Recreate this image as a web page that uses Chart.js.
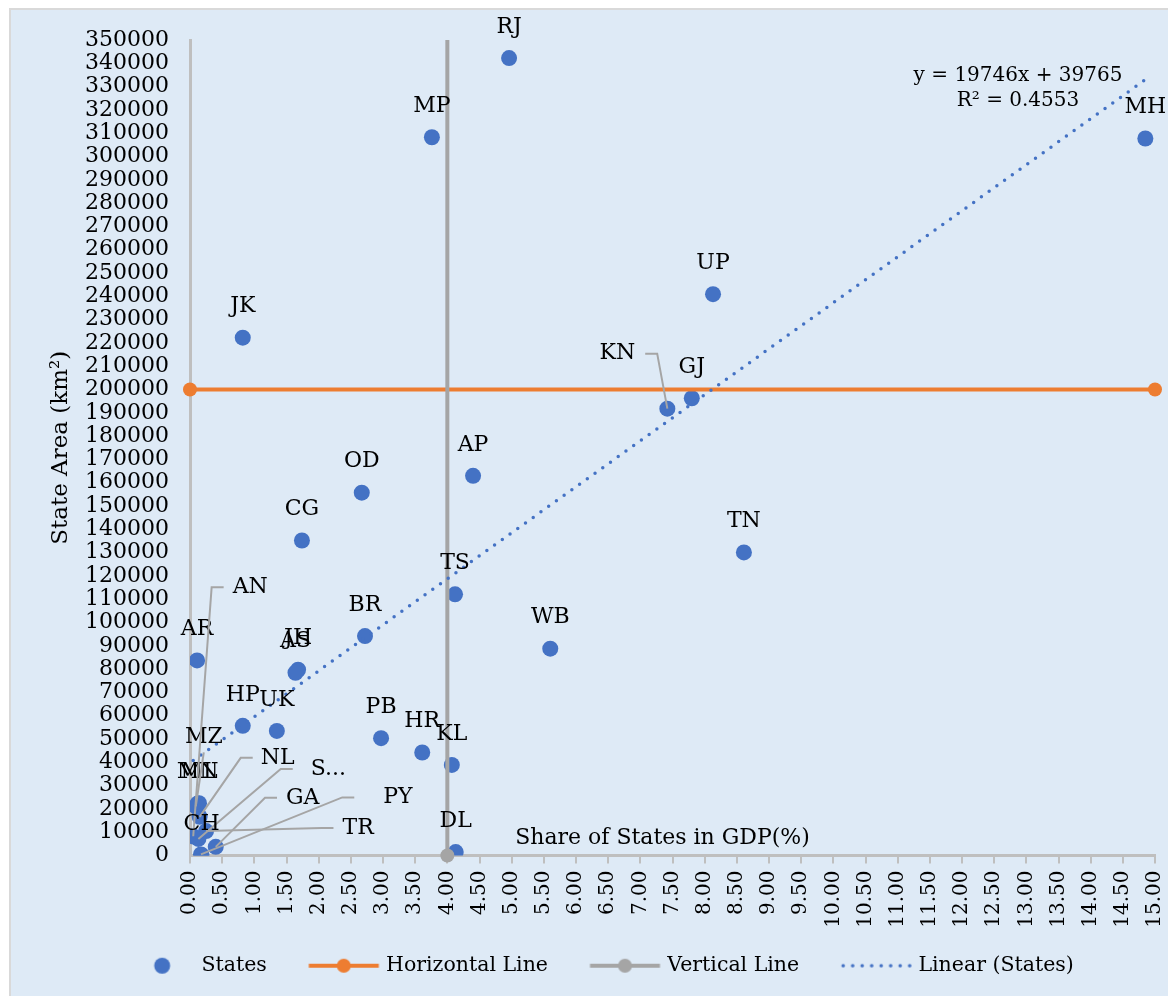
<!DOCTYPE html>
<html>
<head>
<meta charset="utf-8">
<title>State Area vs Share of States in GDP</title>
<script src="https://cdn.jsdelivr.net/npm/chart.js@4.4.1/dist/chart.umd.min.js"></script>
<style>
    html, body { margin: 0; padding: 0; background: #ffffff; }
    #wrap {
        position: absolute; left: 9px; top: 8px;
        width: 1157px; height: 986px;
        border-left: 2px solid #d9d9d9; border-top: 2px solid #d9d9d9;
        background: #deeaf6;
    }
    canvas { display: block; }
</style>
</head>
<body>
<div id="wrap"><canvas id="chart" width="1157" height="986"></canvas></div>
<script>
// state codes as shown on the chart (Sikkim label is cut to "S...")
const stateCodes = ['RJ', 'MP', 'MH', 'UP', 'JK', 'GJ', 'KN', 'AP', 'OD', 'CG', 'TN', 'TS', 'BR', 'WB', 'AR',
    'JH', 'AS', 'HP', 'UK', 'PB', 'HR', 'KL', 'ML', 'MN', 'MZ', 'NL', 'TR', 'AN', 'S...', 'GA', 'DL', 'PY', 'CH'];
const gdpShare = [4.96, 3.76, 14.85, 8.13, 0.82, 7.80, 7.42, 4.40, 2.67, 1.74, 8.61, 4.12, 2.72, 5.60, 0.11,
    1.68, 1.64, 0.82, 1.35, 2.97, 3.61, 4.07, 0.14, 0.12, 0.09, 0.15, 0.25, 0.05, 0.13, 0.40, 4.13, 0.17, 0.18];
const stateArea = [342239, 308252, 307713, 240928, 222236, 196244, 191791, 162968, 155707, 135192, 130058, 112077, 94163, 88752, 83743,
    79716, 78438, 55673, 53483, 50362, 44212, 38863, 22429, 22327, 21081, 16579, 10486, 8249, 7096, 3702, 1484, 479, 114];

const seriesNames = ['States', 'Horizontal Line', 'Vertical Line', 'Linear (States)'];
const hLineX = [0, 15];
const hLineY = [200000, 200000];
const vLineX = [4, 4];
const vLineY = [0, 350000];
const trendSlope = 19746;
const trendIntercept = 39765;
const trendText = ['y = 19746x + 39765', 'R\u00b2 = 0.4553'];

const xMin = 0, xMax = 15, xStep = 0.5;
const yMin = 0, yMax = 350000, yStep = 10000;
const xTitle = 'Share of States in GDP(%)';
const yTitle = 'State Area (km\u00b2)';

// labels that Excel moved away from their point: [dx, dy, gap to leader]
const labelShift = {
    'KN': [-50, -55, 10],
    'MZ': [8, -69, 0],
    'AN': [57, -249, 9],
    'NL': [78, -59, 8],
    'S...': [130, -70, 18],
    'GA': [87, -49, 9],
    'PY': [197, -57, 29],
    'TR': [152, -3, 9]
};

const FONT = '"DejaVu Serif", Georgia, serif';
const BLUE = '#4472c4', ORANGE = '#ed7d31', GREY = '#a5a5a5', AXIS = '#bfbfbf';

const statePoints = gdpShare.map((x, i) => ({ x: x, y: stateArea[i] }));
const trendX = [Math.min(...gdpShare), Math.max(...gdpShare)];
const trendPoints = trendX.map(x => ({ x: x, y: trendSlope * x + trendIntercept }));

// legend box is 99 wide; the picture is wider so the symbol
// ends only ~7px before the text, like in Excel
const LEG_BOX = 99, LEG_IMG = 116;
function legendIcon(kind) {
    const c = document.createElement('canvas');
    c.width = LEG_IMG; c.height = 20;
    const g = c.getContext('2d');
    const shift = (LEG_IMG - LEG_BOX) / 2;
    const x0 = 32 + shift, x1 = 102 + shift, cy = 10;
    if (kind === 0) {
        g.fillStyle = BLUE;
        g.beginPath(); g.arc(x1 - 36 + 4, cy, 8, 0, Math.PI * 2); g.fill();
    } else if (kind === 1 || kind === 2) {
        const col = kind === 1 ? ORANGE : GREY;
        g.strokeStyle = col; g.lineWidth = 4;
        g.beginPath(); g.moveTo(x0, cy); g.lineTo(x1, cy); g.stroke();
        g.fillStyle = col;
        g.beginPath(); g.arc((x0 + x1) / 2, cy, 7, 0, Math.PI * 2); g.fill();
    } else {
        g.fillStyle = BLUE;
        for (let x = x0 + 2; x <= x1 - 1; x += 9.5) {
            g.beginPath(); g.arc(x, cy, 1.8, 0, Math.PI * 2); g.fill();
        }
    }
    return c;
}

const stateLabels = {
    id: 'stateLabels',
    afterDatasetsDraw(chart) {
        const ctx = chart.ctx;
        const meta = chart.getDatasetMeta(0);
        ctx.save();
        ctx.font = '22px ' + FONT;
        ctx.textAlign = 'center';
        ctx.textBaseline = 'middle';
        meta.data.forEach((pt, i) => {
            const code = stateCodes[i];
            const s = labelShift[code];
            let lx = pt.x, ly = pt.y - 31;
            if (s) {
                lx = pt.x + s[0];
                ly = pt.y + s[1];
                const w = ctx.measureText(code).width;
                ctx.strokeStyle = GREY;
                ctx.lineWidth = 2;
                ctx.beginPath();
                if (Math.abs(s[0]) < 20) {
                    ctx.moveTo(lx, ly + 15);
                } else if (s[0] > 0) {
                    const sx = lx - w / 2 - s[2];
                    ctx.moveTo(sx, ly);
                    ctx.lineTo(sx - 12, ly);
                } else {
                    const sx = lx + w / 2 + s[2];
                    ctx.moveTo(sx, ly);
                    ctx.lineTo(sx + 12, ly);
                }
                ctx.lineTo(pt.x, pt.y);
                ctx.stroke();
            }
            ctx.fillStyle = '#000000';
            ctx.fillText(code, lx, ly);
        });
        ctx.restore();
    },
    afterDraw(chart) {
        const ctx = chart.ctx;
        const area = chart.chartArea;
        ctx.save();
        ctx.fillStyle = '#000000';
        ctx.textAlign = 'center';
        ctx.textBaseline = 'middle';
        ctx.font = '22px ' + FONT;
        ctx.fillText(xTitle, (area.left + area.right) / 2 - 10, area.bottom - 17);
        ctx.font = '20px ' + FONT;
        ctx.fillText(trendText[0], area.right - 137, area.top + 36);
        ctx.fillText(trendText[1], area.right - 137, area.top + 61);
        ctx.restore();
    }
};

const chart = new Chart(document.getElementById('chart'), {
    type: 'scatter',
    data: {
        datasets: [
            {
                label: seriesNames[0],
                data: statePoints,
                backgroundColor: BLUE,
                borderWidth: 0,
                pointRadius: 8,
                pointHoverRadius: 8,
                order: 3
            },
            {
                label: seriesNames[1],
                data: hLineX.map((x, i) => ({ x: x, y: hLineY[i] })),
                showLine: true,
                borderColor: ORANGE,
                backgroundColor: ORANGE,
                borderWidth: 4,
                pointRadius: 7,
                pointBorderWidth: 0,
                clip: false,
                order: 2
            },
            {
                label: seriesNames[2],
                data: vLineX.map((x, i) => ({ x: x, y: vLineY[i] })),
                showLine: true,
                borderColor: GREY,
                backgroundColor: GREY,
                borderWidth: 4,
                pointRadius: [7, 0],
                pointBorderWidth: 0,
                clip: false,
                order: 1
            },
            {
                label: seriesNames[3],
                data: trendPoints,
                showLine: true,
                borderColor: BLUE,
                borderWidth: 3.5,
                borderDash: [0, 9.5],
                borderCapStyle: 'round',
                pointRadius: 0,
                order: 0
            }
        ]
    },
    options: {
        responsive: false,
        animation: false,
        layout: { padding: { top: 30, right: 13, left: 0, bottom: 10 } },
        scales: {
            x: {
                type: 'linear',
                min: xMin,
                max: xMax,
                grid: { drawOnChartArea: false, drawTicks: true, tickLength: 8, color: AXIS, lineWidth: 2 },
                border: { color: AXIS, width: 3 },
                ticks: {
                    stepSize: xStep,
                    autoSkip: false,
                    minRotation: 90,
                    maxRotation: 90,
                    padding: 7,
                    color: '#000000',
                    font: { family: FONT, size: 20 },
                    callback: v => v.toFixed(2)
                },
                afterFit: s => { s.height = 90; s.paddingLeft = 0; s.paddingRight = 0; }
            },
            y: {
                type: 'linear',
                min: yMin,
                max: yMax,
                grid: { display: false, drawTicks: false },
                border: { color: AXIS, width: 3 },
                ticks: {
                    stepSize: yStep,
                    autoSkip: false,
                    padding: 21,
                    color: '#000000',
                    font: { family: FONT, size: 22 },
                    callback: v => String(v)
                },
                title: {
                    display: true,
                    text: yTitle,
                    color: '#000000',
                    font: { family: FONT, size: 23 },
                    padding: { top: 36, bottom: 0 }
                },
                afterFit: s => { s.width = 179; s.paddingTop = 0; s.paddingBottom = 0; }
            }
        },
        plugins: {
            tooltip: { enabled: false },
            legend: {
                position: 'bottom',
                labels: {
                    usePointStyle: true,
                    pointStyleWidth: LEG_BOX,
                    padding: 10,
                    color: '#000000',
                    font: { family: FONT, size: 20.5 },
                    generateLabels: () => seriesNames.map((name, i) => ({
                        text: name,
                        pointStyle: legendIcon(i),
                        fillStyle: 'transparent',
                        strokeStyle: 'transparent',
                        lineWidth: 0,
                        hidden: false,
                        datasetIndex: i,
                        fontColor: '#000000'
                    }))
                }
            }
        }
    },
    plugins: [stateLabels]
});
</script>
</body>
</html>
